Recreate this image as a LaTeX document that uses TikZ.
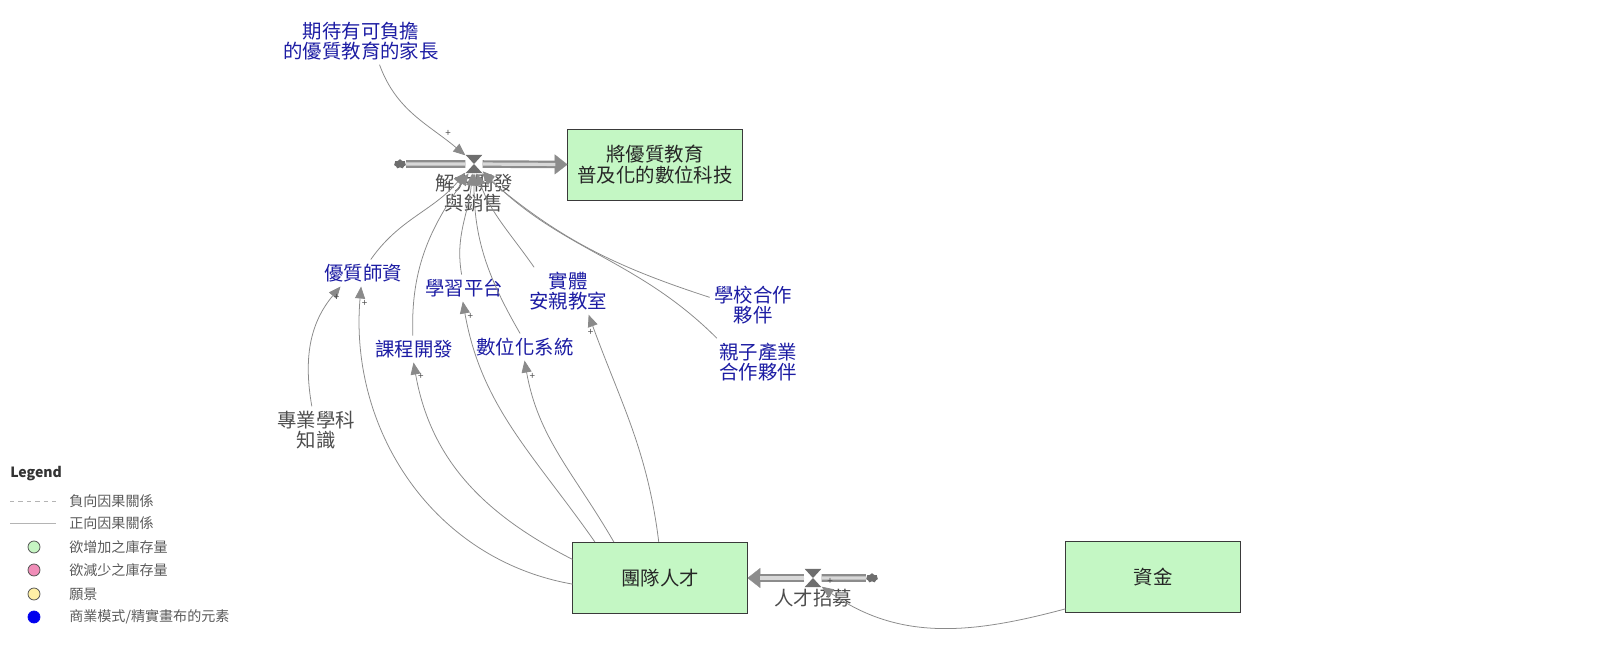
\documentclass[tikz,border=0pt]{standalone}
\usepackage{fontspec}
\setmainfont{Noto Sans CJK TC}
\usetikzlibrary{arrows.meta,shapes.symbols}

\definecolor{varblue}{HTML}{1C1CA3}
\definecolor{stockfill}{HTML}{C4F7C4}
\definecolor{stockline}{HTML}{3A3A3A}
\definecolor{linkgray}{HTML}{8A8A8A}
\definecolor{pipegray}{HTML}{8C8C8C}
\definecolor{pipelight}{HTML}{D8D8D8}
\definecolor{valvegray}{HTML}{6E6E6E}
\definecolor{auxtext}{HTML}{4D4D4D}
\definecolor{legendtext}{HTML}{5A5A5A}
\definecolor{legendline}{HTML}{B4B4B4}
\definecolor{keygreen}{HTML}{C6F5C3}
\definecolor{keypink}{HTML}{F08DB8}
\definecolor{keyyellow}{HTML}{FFF0A6}
\definecolor{keyblue}{HTML}{0000EE}

\begin{document}
\begin{tikzpicture}[>=latex, x=0.025cm, y=0.025cm]

% --- Styles ---
\tikzset{
    stock/.style={draw=stockline, fill=stockfill, line width=0.7pt, minimum width=4.35cm, minimum height=1.78cm, align=center, text=black!85, font=\fontsize{13.8}{15}\selectfont},
    var/.style={text=varblue, align=center, inner sep=3pt, font=\fontsize{13.8}{14.5}\selectfont},
    aux/.style={var, text=auxtext},
    valve/.style={minimum width=0.42cm, minimum height=0.46cm, inner sep=0pt, path picture={
        \fill[valvegray] (path picture bounding box.north west) -- (path picture bounding box.north east) -- (path picture bounding box.center) -- cycle;
        \fill[valvegray] (path picture bounding box.south west) -- (path picture bounding box.south east) -- (path picture bounding box.center) -- cycle;}},
    cloudy/.style={cloud, cloud puffs=7, aspect=1.2, fill=valvegray, minimum width=0.3cm, minimum height=0.24cm, inner sep=0pt},
    pipe/.style={draw=pipegray, line width=0.055cm, double=pipelight, double distance=0.08cm},
    pipehead/.style={draw=pipegray, line width=0.2pt, -{Triangle[length=0.32cm, width=0.5cm]}},
    link/.style={draw=linkgray, line width=0.55pt, -{Triangle[length=0.3cm, width=0.25cm]}},
    plus/.style={text=auxtext, font=\fontsize{7}{7}\selectfont, inner sep=1pt},
    keytext/.style={text=legendtext, anchor=west, inner sep=0pt, font=\fontsize{10}{11}\selectfont},
    keydot/.style={circle, draw=black!70, line width=0.5pt, minimum size=0.3cm, inner sep=0pt}
}

    \useasboundingbox (0,0) rectangle (1600,646);

    % Voorraden
    \node[stock] (tech) at (655,481) {將優質教育\\普及化的數位科技};
    \node[stock] (team) at (660,68) {團隊人才};
    \node[stock] (fund) at (1153,69) {資金};

    % Stroom bovenaan
    \node[valve] (dev) at (474,482) {};
    \node[aux, inner sep=0pt] (devlabel) at (474,453) {解方開發\\與銷售};
    \node[cloudy] (srcA) at (400,482) {};
    \draw[pipehead] (dev) -- (tech);
    \draw[pipe, shorten >=0.3cm] (dev) -- (tech);
    \draw[pipe] (srcA) -- (dev);

    % Stroom onderaan
    \node[valve] (hire) at (813,68) {};
    \node[aux, inner sep=0pt] (hirelabel) at (813,48) {人才招募};
    \node[cloudy] (srcB) at (872,68) {};
    \draw[pipehead] (hire) -- (team);
    \draw[pipe, shorten >=0.3cm] (hire) -- (team);
    \draw[pipe] (srcB) -- (hire);

    % Variabelen
    \node[var] (parent) at (361,605) {期待有可負擔\\的優質教育的家長};
    \node[var] (teacher) at (363,373) {優質師資};
    \node[var] (platform) at (464,358) {學習平台};
    \node[var] (classroom) at (568,355) {實體\\安親教室};
    \node[var] (school) at (753,341) {學校合作\\夥伴};
    \node[var] (course) at (414,297) {課程開發};
    \node[var] (digital) at (525,299) {數位化系統};
    \node[var] (partner) at (758,284) {親子產業\\合作夥伴};
    \node[aux] (subject) at (316,216) {專業學科\\知識};

    % Verbanden naar de klep
    \draw[link] (parent.-52) to[out=-70, in=140] node[plus, pos=0.8, above right]{+} (dev.135);
    \draw[link] (teacher.60) to[out=55, in=230] (dev.-135);
    \draw[link] (course.95) to[out=92, in=235] (dev.-120);
    \draw[link] (platform.100) to[out=100, in=265] (dev.-100);
    \draw[link] (digital.110) to[out=120, in=270] (dev.-90);
    \draw[link] (classroom.145) to[out=125, in=290] (dev.-75);
    \draw[link] (school.170) to[out=162, in=-40] (dev.-50);
    \draw[link] (partner.150) to[out=135, in=-45] (dev.-40);

    % Verbanden vanuit het team
    \draw[link] (team.184) to[out=170, in=265] node[plus, pos=0.96, right]{+} (teacher.262);
    \draw[link] (team.168) to[out=153, in=280] node[plus, pos=0.95, right]{+} (course.268);
    \draw[link] (team.151) to[out=125, in=280] node[plus, pos=0.95, right]{+} (platform.265);
    \draw[link] (team.142) to[out=120, in=280] node[plus, pos=0.93, right]{+} (digital.268);
    \draw[link] (team.92) to[out=97, in=290] node[plus, pos=0.93, left]{+} (classroom.-49);
    \draw[link] (subject.100) to[out=100, in=230] node[plus, pos=0.9, right]{+} (teacher.211);
    \draw[link] (fund.200) to[out=195, in=-35] node[plus, pos=1, anchor=south west, xshift=0.1cm]{+} (hire.-45);

    % Legenda
    \node[keytext, text=black!80, font=\fontsize{10}{11}\selectfont\bfseries] (legend) at (10,172) {Legend};
    \coordinate (negA) at (10,145);
    \coordinate (negB) at (56,145);
    \draw[legendline, dash pattern=on 3pt off 3pt, line width=0.5pt] (negA) -- (negB);
    \node[keytext] (negtext) at (69,145) {負向因果關係};
    \coordinate (posA) at (10,123);
    \coordinate (posB) at (56,123);
    \draw[legendline, line width=0.5pt] (posA) -- (posB);
    \node[keytext] (postext) at (69,123) {正向因果關係};
    \node[keydot, fill=keygreen] (keyup) at (34,99) {};
    \node[keytext] (uptext) at (69,99) {欲增加之庫存量};
    \node[keydot, fill=keypink] (keydown) at (34,76) {};
    \node[keytext] (downtext) at (69,76) {欲減少之庫存量};
    \node[keydot, fill=keyyellow] (keyvision) at (34,52) {};
    \node[keytext] (visiontext) at (69,52) {願景};
    \node[keydot, fill=keyblue, draw=keyblue] (keycanvas) at (34,29) {};
    \node[keytext] (canvastext) at (69,29) {商業模式/精實畫布的元素};

\end{tikzpicture}
\end{document}
